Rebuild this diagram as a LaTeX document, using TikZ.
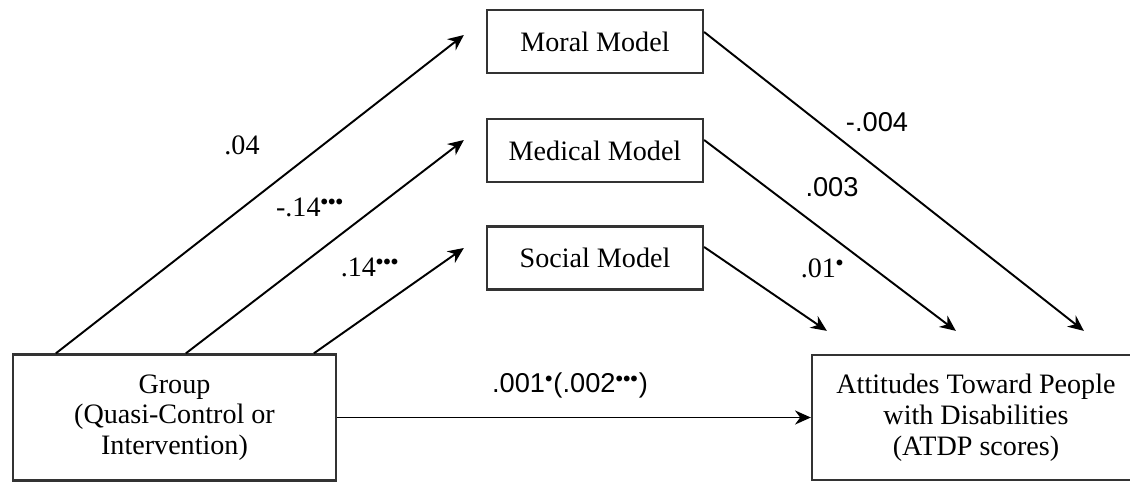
\documentclass[tikz,border=0pt]{standalone}
\usepackage{fontspec}
\setmainfont{Liberation Serif}
\setsansfont{Liberation Sans}
\usetikzlibrary{arrows.meta,positioning,calc}

\begin{document}
\begin{tikzpicture}[
    block/.style={rectangle, draw=black!80, line width=1.3pt, minimum width=4.32cm, minimum height=1.26cm, align=center, font=\fontsize{16}{17.5}\selectfont},
    arrow/.style={-{Stealth[length=9pt,width=8pt]}, line width=1.1pt},
    coef/.style={font=\fontsize{16}{18}\selectfont},
    coefsf/.style={font=\fontsize{15.5}{18}\sffamily}
]
\useasboundingbox (0,0) rectangle (22.6,9.66);

\node[block, minimum width=6.46cm, minimum height=2.52cm] (group) at (3.49,1.31) {Group\\(Quasi-Control or\\Intervention)};
\node[block, minimum width=6.56cm, minimum height=2.5cm] (atdp) at (19.52,1.31) {Attitudes Toward People\\with Disabilities\\(ATDP scores)};
\node[block] (moral) at (11.9,8.83) {Moral Model};
\node[block] (medical) at (11.9,6.65) {Medical Model};
\node[block] (social) at (11.9,4.5) {Social Model};

% group to the three models
\draw[arrow] ($(group.north west)+(0.88,0)$) -- ($(moral.west)+(-0.44,0.13)$);
\draw[arrow] ($(group.north west)+(3.48,0)$) -- ($(medical.west)+(-0.44,0.21)$);
\draw[arrow] ($(group.north west)+(6.04,0)$) -- ($(social.west)+(-0.44,0.2)$);

% models to attitudes
\draw[arrow] ($(moral.east)+(0,0.19)$) -- ($(atdp.north west)+(5.46,0.46)$);
\draw[arrow] ($(medical.east)+(0,0.21)$) -- ($(atdp.north west)+(2.9,0.46)$);
\draw[arrow] ($(social.east)+(0,0.22)$) -- ($(atdp.north west)+(0.32,0.46)$);

% direct path
\draw[arrow] (group.east) -- (atdp.west);

\node[coef] (c1) at (4.84,6.76) {.04};
\node[coef] (c2) at (6.2,5.52) {-.14$^{\scriptscriptstyle\bullet\bullet\bullet}$};
\node[coef] (c3) at (7.4,4.32) {.14$^{\scriptscriptstyle\bullet\bullet\bullet}$};
\node[coefsf] (c4) at (17.54,7.22) {-.004};
\node[coefsf] (c5) at (16.64,5.92) {.003};
\node[coef] (c6) at (16.45,4.3) {.01$^{\scriptscriptstyle\bullet}$};
\node[coefsf] (c7) at (11.4,1.96) {.001$^{\scriptscriptstyle\bullet}$(.002$^{\scriptscriptstyle\bullet\bullet\bullet}$)};
\end{tikzpicture}
\end{document}
